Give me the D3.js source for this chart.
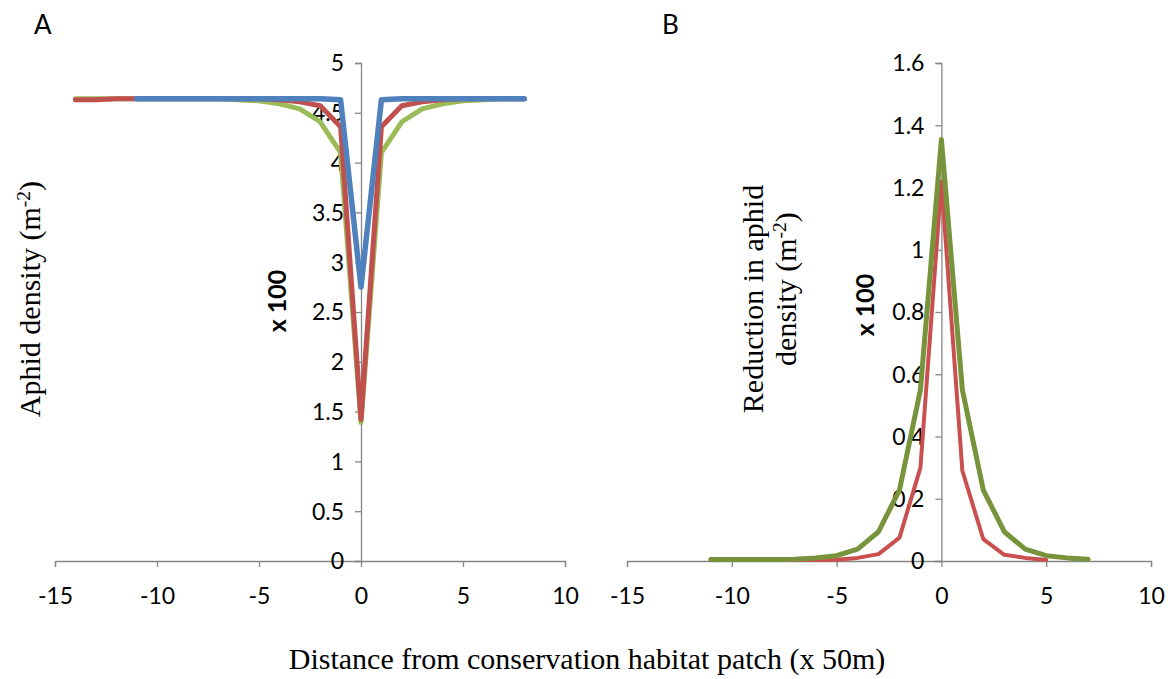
<!DOCTYPE html>
<html>
<head>
<meta charset="utf-8">
<script src="https://cdn.jsdelivr.net/npm/d3@7"></script>
<style>
  body { margin: 0; background: #fff; }
  svg { display: block; }
  .tick text { font-family: Lato, "Open Sans", sans-serif; font-size: 23px; fill: #000; }
  .axis path, .axis line { stroke: #868686; stroke-width: 1.3; }
</style>
</head>
<body>
<svg id="chart" width="1171" height="679"></svg>
<script>
// Panel A: aphid density (x 100 per m2)
const distA = [-14, -13, -12, -11, -10, -9, -8, -7, -6, -5, -4, -3, -2, -1, 0, 1, 2, 3, 4, 5, 6, 7, 8];
const greenA = [4.64, 4.64, 4.64, 4.64, 4.64, 4.64, 4.64, 4.64, 4.63, 4.62, 4.59, 4.54, 4.41, 4.1, 1.39, 4.1, 4.41, 4.54, 4.59, 4.62, 4.63, 4.64, 4.64];
const redA = [4.63, 4.63, 4.64, 4.64, 4.64, 4.64, 4.64, 4.64, 4.64, 4.64, 4.63, 4.61, 4.57, 4.36, 1.42, 4.36, 4.57, 4.61, 4.63, 4.64, 4.64, 4.64, 4.64];
const distBlueA = [-11, -10, -9, -8, -7, -6, -5, -4, -3, -2, -1, 0, 1, 2, 3, 4, 5, 6, 7, 8];
const blueA = [4.64, 4.64, 4.64, 4.64, 4.64, 4.64, 4.64, 4.64, 4.64, 4.64, 4.63, 2.75, 4.63, 4.64, 4.64, 4.64, 4.64, 4.64, 4.64, 4.64];

// Panel B: reduction in aphid density (x 100 per m2)
const distGreenB = [-11, -10, -9, -8, -7, -6, -5, -4, -3, -2, -1, 0, 1, 2, 3, 4, 5, 6, 7];
const greenB = [0.005, 0.005, 0.005, 0.005, 0.006, 0.01, 0.017, 0.038, 0.094, 0.228, 0.55, 1.354, 0.55, 0.228, 0.094, 0.038, 0.017, 0.01, 0.006];
const distRedB = [-11, -10, -9, -8, -7, -6, -5, -4, -3, -2, -1, 0, 1, 2, 3, 4, 5];
const redB = [0.003, 0.003, 0.003, 0.003, 0.003, 0.003, 0.004, 0.01, 0.022, 0.075, 0.3, 1.22, 0.29, 0.07, 0.02, 0.01, 0.003];

const xTicks = [-15, -10, -5, 0, 5, 10];
const yTicksA = [0, 0.5, 1, 1.5, 2, 2.5, 3, 3.5, 4, 4.5, 5];
const yTicksB = [0, 0.2, 0.4, 0.6, 0.8, 1, 1.2, 1.4, 1.6];

const svg = d3.select('#chart');
const serif = '"Liberation Serif", "Times New Roman", serif';
const sans = 'Lato, "Open Sans", sans-serif';

function panel(opts) {
    const x = d3.scaleLinear().domain([-15, 10]).range(opts.xRange);
    const y = d3.scaleLinear().domain(opts.yDomain).range([561, 63]);

    // x axis sits on y = 0
    svg.append('g')
        .attr('class', 'axis')
        .attr('transform', `translate(0,${y(0)})`)
        .call(d3.axisBottom(x).tickValues(xTicks).tickSize(6).tickSizeOuter(6).tickPadding(21)
            .tickFormat(d => String(d)))
        .call(g => g.selectAll('.tick text').attr('dy', '0.71em'));

    // y axis crosses at x = 0
    svg.append('g')
        .attr('class', 'axis')
        .attr('transform', `translate(${x(0)},0)`)
        .call(d3.axisLeft(y).tickValues(opts.yTicks).tickSize(6).tickSizeOuter(6).tickPadding(11)
            .tickFormat(d => String(d)))
        .call(g => g.selectAll('.tick text').attr('dy', '0.34em'));

    const line = d3.line()
        .x(d => x(d[0]))
        .y(d => y(d[1]));

    opts.series.forEach(s => {
        svg.append('path')
            .datum(d3.zip(s.dist, s.values))
            .attr('d', line)
            .attr('fill', 'none')
            .attr('stroke', s.color)
            .attr('stroke-width', s.width)
            .attr('stroke-linejoin', 'round')
            .attr('stroke-linecap', 'round');
    });
    return {x, y};
}

panel({
    xRange: [55, 565],
    yDomain: [0, 5],
    yTicks: yTicksA,
    series: [
        {dist: distA, values: greenA, color: '#9BBB59', width: 5},
        {dist: distA, values: redA, color: '#C0504D', width: 5},
        {dist: distBlueA, values: blueA, color: '#4F81BD', width: 5.5}
    ]
});

panel({
    xRange: [627, 1151],
    yDomain: [0, 1.6],
    yTicks: yTicksB,
    series: [
        {dist: distRedB, values: redB, color: '#C9504F', width: 4},
        {dist: distGreenB, values: greenB, color: '#77933C', width: 5}
    ]
});

// Panel letters
svg.append('text').attr('x', 34).attr('y', 34)
    .attr('font-family', sans).attr('font-size', '26px').text('A');
svg.append('text').attr('x', 662).attr('y', 34)
    .attr('font-family', sans).attr('font-size', '26px').text('B');

// Rotated labels helper
function vlabel(xPos, yPos, parts, font, size, weight) {
    const t = svg.append('text')
        .attr('transform', `translate(${xPos},${yPos}) rotate(-90)`)
        .attr('text-anchor', 'middle')
        .attr('font-family', font)
        .attr('font-size', size)
        .attr('font-weight', weight || 'normal');
    parts.forEach(p => {
        const sp = t.append('tspan').text(p.text);
        if (p.sup) sp.attr('baseline-shift', 'super').attr('font-size', '0.65em');
    });
    return t;
}

vlabel(40, 299, [{text: 'Aphid density (m'}, {text: '-2', sup: true}, {text: ')'}], serif, '30px');
vlabel(286, 301, [{text: 'x 100'}], sans, '25px', 'bold');

vlabel(763, 299, [{text: 'Reduction in aphid'}], serif, '30px');
vlabel(796, 289, [{text: 'density (m'}, {text: '-2', sup: true}, {text: ')'}], serif, '30px');
vlabel(874, 305, [{text: 'x 100'}], sans, '25px', 'bold');

// Shared x title
svg.append('text')
    .attr('x', 587).attr('y', 669)
    .attr('text-anchor', 'middle')
    .attr('font-family', serif)
    .attr('font-size', '30px')
    .text('Distance from conservation habitat patch (x 50m)');
</script>
</body>
</html>
